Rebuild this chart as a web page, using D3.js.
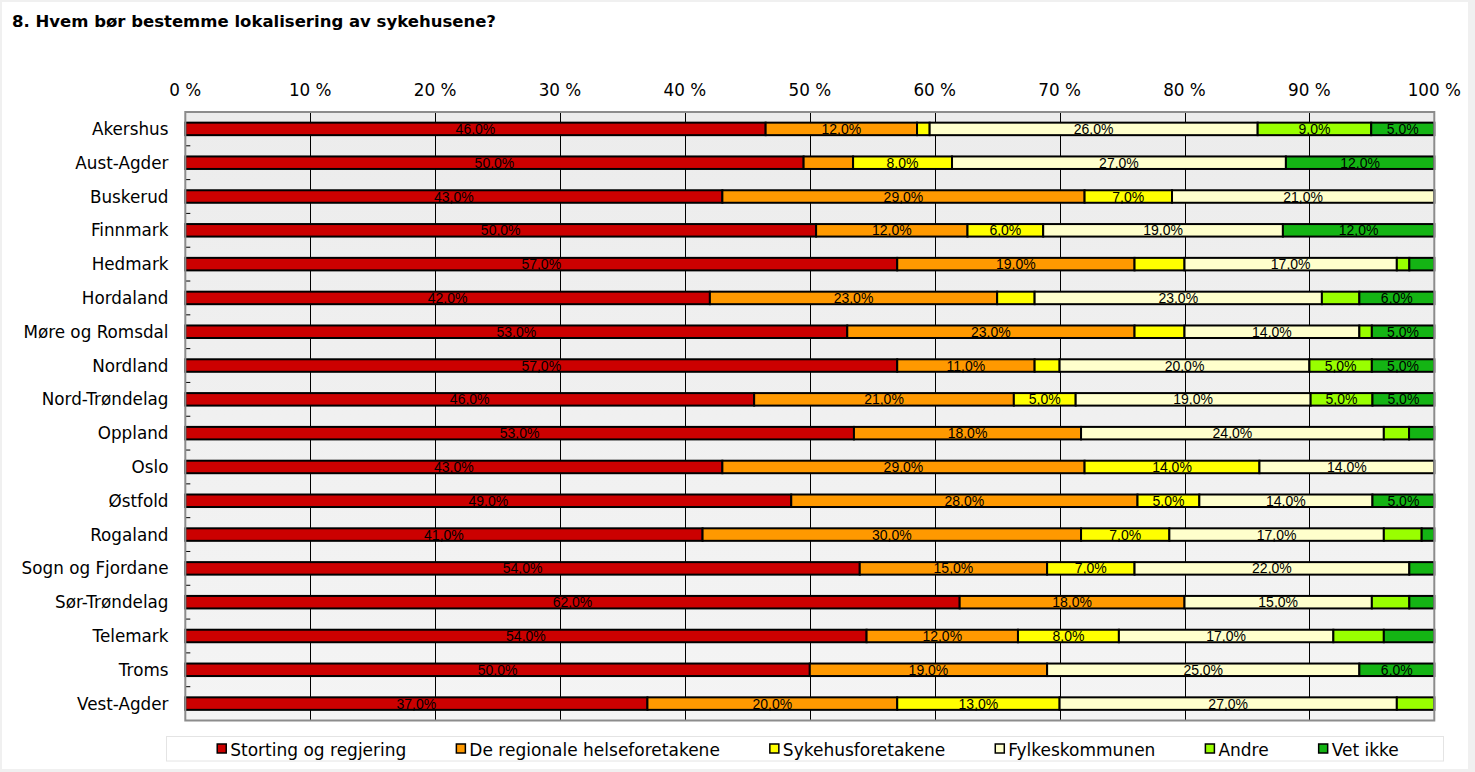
<!DOCTYPE html>
<html>
<head>
<meta charset="utf-8">
<script src="https://cdn.jsdelivr.net/npm/d3@7"></script>
<style>
  html, body { margin: 0; padding: 0; background: #f0f0f0; }
  svg { display: block; }
</style>
</head>
<body>
<svg id="chart" width="1475" height="772"></svg>
<script>
const title = "8. Hvem bør bestemme lokalisering av sykehusene?";
const categories = ["Akershus","Aust-Agder","Buskerud","Finnmark","Hedmark","Hordaland","Møre og Romsdal","Nordland","Nord-Trøndelag","Oppland","Oslo","Østfold","Rogaland","Sogn og Fjordane","Sør-Trøndelag","Telemark","Troms","Vest-Agder"];
const seriesNames = ["Storting og regjering","De regionale helseforetakene","Sykehusforetakene","Fylkeskommunen","Andre","Vet ikke"];
const storting  = [46,50,43,50,57,42,53,57,46,53,43,49,41,54,62,54,50,37];
const regionale = [12,4,29,12,19,23,23,11,21,18,29,28,30,15,18,12,19,20];
const sykehus   = [1,8,7,6,4,3,4,2,5,0,14,5,7,7,0,8,0,13];
const fylkes    = [26,27,21,19,17,23,14,20,19,24,14,14,17,22,15,17,25,27];
const andre     = [9,0,0,0,1,3,1,5,5,2,0,0,3,0,3,4,0,3];
const vetIkke   = [5,12,0,12,2,6,5,5,5,2,0,5,1,2,2,4,6,0];
const tickValues = [0,10,20,30,40,50,60,70,80,90,100];
const colors = ["#cc0000","#ff9900","#ffff00","#ffffcc","#99ff00","#14b414"];

const seriesValues = [storting, regionale, sykehus, fylkes, andre, vetIkke];
const rows = categories.map((c, i) => {
  const r = {cat: c};
  seriesNames.forEach((s, j) => r[s] = seriesValues[j][i]);
  return r;
});

const svg = d3.select("#chart");
svg.append("rect").attr("x", 2).attr("y", 2).attr("width", 1466).attr("height", 767).attr("fill", "#ffffff");

svg.append("text").attr("x", 12).attr("y", 27)
  .attr("font-family", "DejaVu Sans, Verdana, sans-serif").attr("font-weight", "bold")
  .attr("font-size", 16.5).attr("fill", "#000").text(title);

const pLeft = 185.3, pRight = 1434.3, pTop = 112, pBottom = 720.5;
const x = d3.scaleLinear().domain([0, 1]).range([pLeft, pRight]);
const y = d3.scaleBand().domain(categories).range([pTop, pBottom]).paddingInner(0.63).paddingOuter(0.315);
const step = y.step();

const defs = svg.append("defs");
const grad = defs.append("linearGradient").attr("id", "bg").attr("x1", 0).attr("y1", 0).attr("x2", 0).attr("y2", 1);
grad.append("stop").attr("offset", "0%").attr("stop-color", "#ececec");
grad.append("stop").attr("offset", "100%").attr("stop-color", "#f4f4f4");

svg.append("rect").attr("x", pLeft).attr("y", pTop).attr("width", pRight - pLeft).attr("height", pBottom - pTop)
  .attr("fill", "url(#bg)");

svg.append("g").selectAll("line").data(tickValues.slice(1, -1)).join("line")
  .attr("x1", d => Math.round(x(d / 100)) + 0.5).attr("x2", d => Math.round(x(d / 100)) + 0.5)
  .attr("y1", pTop).attr("y2", pBottom).attr("stroke", "#000").attr("stroke-width", 1);

svg.append("g").selectAll("line").data(d3.range(1, categories.length)).join("line")
  .attr("x1", pLeft).attr("x2", pLeft + 5)
  .attr("y1", d => pTop + d * step).attr("y2", d => pTop + d * step)
  .attr("stroke", "#000").attr("stroke-width", 1);

svg.append("g").selectAll("text").data(tickValues).join("text")
  .attr("x", d => x(d / 100)).attr("y", 96).attr("text-anchor", "middle")
  .attr("font-family", "DejaVu Sans, Verdana, sans-serif").attr("font-size", 16.8).attr("fill", "#000")
  .text(d => d + " %");

svg.append("g").selectAll("text").data(categories).join("text")
  .attr("x", 168.5).attr("y", d => y(d) + y.bandwidth() / 2 + 6).attr("text-anchor", "end")
  .attr("font-family", "DejaVu Sans, Verdana, sans-serif").attr("font-size", 16.8).attr("fill", "#000")
  .text(d => d);

const stack = d3.stack().keys(seriesNames).offset(d3.stackOffsetExpand);
const stacked = stack(rows);

const layers = svg.append("g").selectAll("g").data(stacked).join("g")
  .attr("fill", (d, i) => colors[i]);
layers.selectAll("rect").data(d => d.filter(s => s[1] - s[0] > 0)).join("rect")
  .attr("x", d => x(d[0])).attr("width", d => x(d[1]) - x(d[0]))
  .attr("y", d => y(d.data.cat)).attr("height", y.bandwidth())
  .attr("stroke", "#000").attr("stroke-width", 2);

const lbl = svg.append("g");
stacked.forEach(layer => {
  layer.forEach(s => {
    const v = s.data[layer.key];
    if (v >= 5) {
      lbl.append("text")
        .attr("x", (x(s[0]) + x(s[1])) / 2).attr("y", y(s.data.cat) + y.bandwidth() / 2 + 5)
        .attr("text-anchor", "middle")
        .attr("font-family", "Liberation Sans, Arial, sans-serif").attr("font-size", 14).attr("fill", "#000")
        .text(v + ",0%");
    }
  });
});

svg.append("rect").attr("x", pLeft).attr("y", pTop).attr("width", pRight - pLeft).attr("height", pBottom - pTop)
  .attr("fill", "none").attr("stroke", "#8c8c8c").attr("stroke-width", 2);

const lg = svg.append("g");
lg.append("rect").attr("x", 166.5).attr("y", 736.5).attr("width", 1277).attr("height", 24.5)
  .attr("fill", "#fff").attr("stroke", "#e4e4e4").attr("stroke-width", 1);
const items = lg.selectAll("g").data(seriesNames).join("g");
items.append("rect").attr("x", 0).attr("y", 744).attr("width", 9).attr("height", 9)
  .attr("fill", (d, i) => colors[i]).attr("stroke", "#000").attr("stroke-width", 1.5);
items.append("text").attr("x", 13).attr("y", 755.5)
  .attr("font-family", "DejaVu Sans, Verdana, sans-serif").attr("font-size", 17).attr("fill", "#000")
  .text(d => d);
const gap = 50;
const widths = [];
items.each(function() { widths.push(13 + d3.select(this).select("text").node().getComputedTextLength()); });
const total = d3.sum(widths) + gap * (widths.length - 1);
let cx = 808 - total / 2;
items.each(function(d, i) { d3.select(this).attr("transform", `translate(${cx},0)`); cx += widths[i] + gap; });
</script>
</body>
</html>
